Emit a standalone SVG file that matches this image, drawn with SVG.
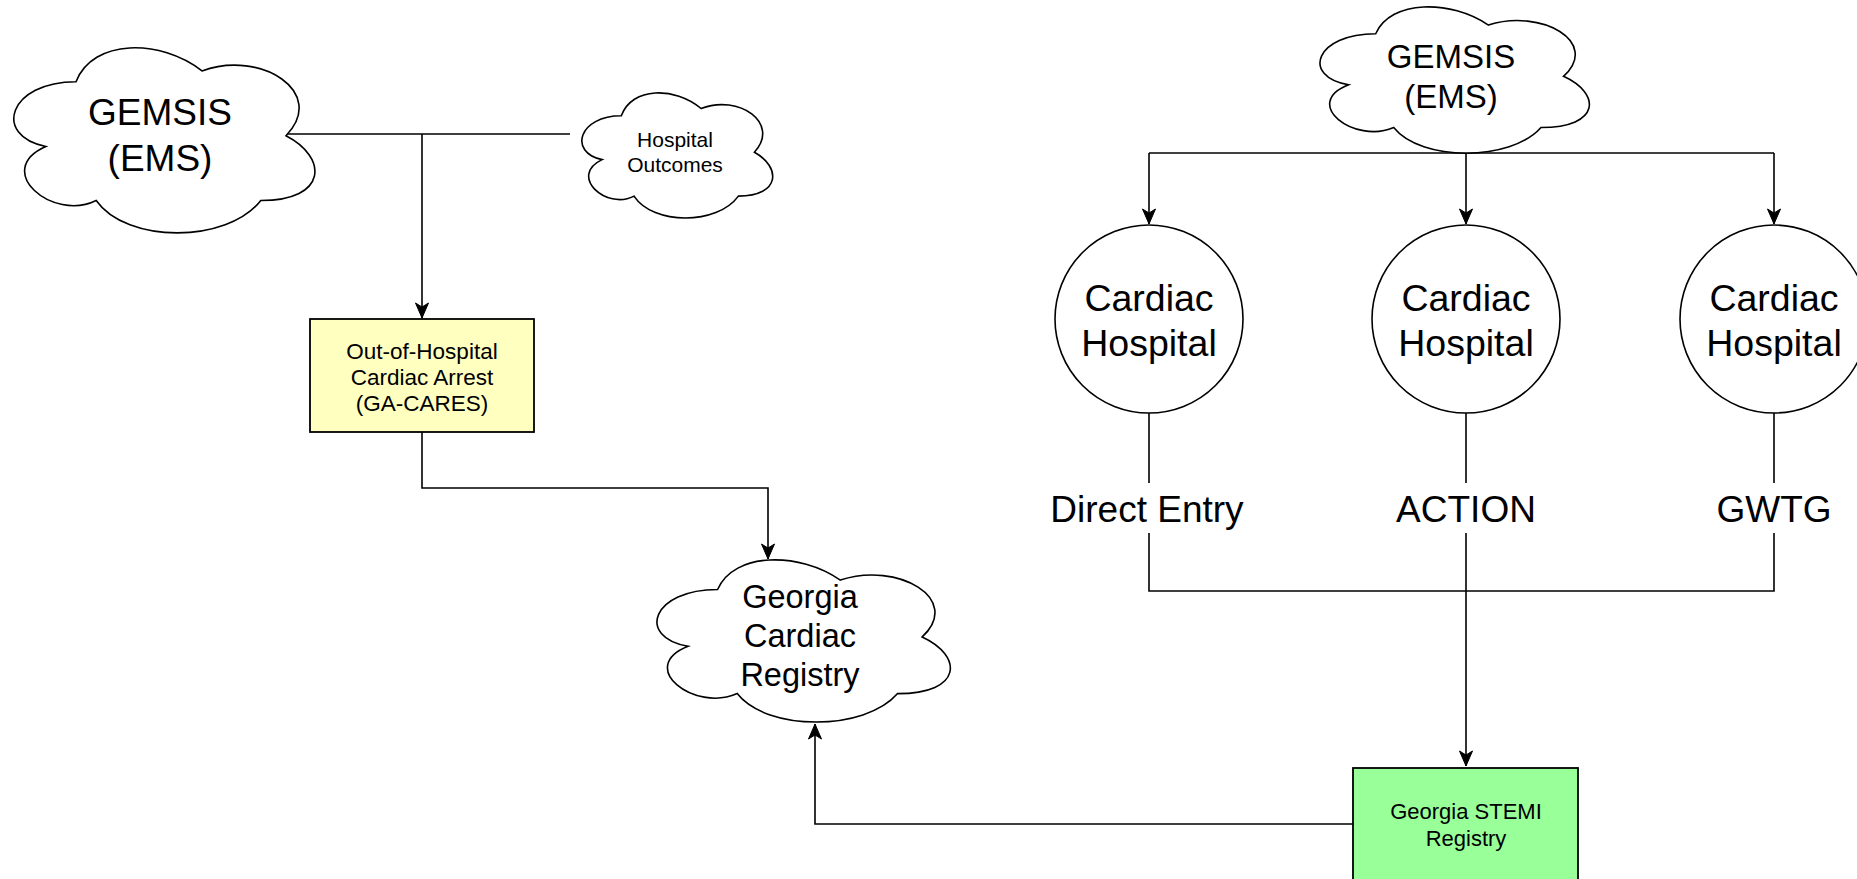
<svg xmlns="http://www.w3.org/2000/svg" width="1857" height="879" viewBox="0 0 1857 879">
<style>
  .ln{fill:none;stroke:#000;stroke-width:1.6}
  .shape{fill:#fff;stroke:#000;stroke-width:1.6}
  text{font-family:"Liberation Sans",Arial,sans-serif;text-anchor:middle;fill:#000}
</style>
<defs>
  <marker id="arr" markerUnits="userSpaceOnUse" viewBox="-16 -8 17 16" refX="0" refY="0" markerWidth="17" markerHeight="16" orient="auto">
    <path d="M0,0 L-15,-6.5 L-11,0 L-15,6.5 Z" fill="#000" stroke="#000" stroke-width="1"/>
  </marker>
</defs>
<rect width="1857" height="879" fill="#fff"/>

<g id="connectors">
  <path class="ln" d="M286,134 L570,134"/>
  <path class="ln" d="M422,134 L422,318" marker-end="url(#arr)"/>
  <path class="ln" d="M422,432 L422,488 L768,488 L768,559" marker-end="url(#arr)"/>
  <path class="ln" d="M1353,824 L815,824 L815,724" marker-end="url(#arr)"/>
  <path class="ln" d="M1149,153 L1774,153"/>
  <path class="ln" d="M1149,153 L1149,224" marker-end="url(#arr)"/>
  <path class="ln" d="M1466,153 L1466,224" marker-end="url(#arr)"/>
  <path class="ln" d="M1774,153 L1774,224" marker-end="url(#arr)"/>
  <path class="ln" d="M1149,413 L1149,483 M1149,533 L1149,591 L1774,591 L1774,533 M1774,483 L1774,413"/>
  <path class="ln" d="M1466,413 L1466,483 M1466,533 L1466,766" marker-end="url(#arr)"/>
  <text x="1147" y="522" font-size="37">Direct Entry</text>
  <text x="1466" y="522" font-size="37">ACTION</text>
  <text x="1774" y="522" font-size="37">GWTG</text>
</g>

<g id="gemsis-left">
  <path class="shape" d="M76,81.7 C8.8,81.7 -8,135.7 45.8,146.5 C-8,170.3 52.5,222.1 96.2,200.5 C126.4,243.7 227.2,243.7 260.8,200.5 C328,200.5 328,157.3 286,135.7 C328,92.5 260.8,49.3 202,70.9 C160,38.5 92.8,38.5 76,81.7 Z"/>
  <text x="160" y="125" font-size="37">GEMSIS</text>
  <text x="160" y="171" font-size="37">(EMS)</text>
</g>

<g id="hospital-outcomes">
  <path class="shape" d="M621.3,115.8 C578.7,115.8 568,152.3 602.1,159.6 C568,175.7 606.3,210.7 634,196.1 C653.2,225.3 717.1,225.3 738.4,196.1 C781,196.1 781,166.9 754.4,152.3 C781,123.1 738.4,93.9 701.1,108.5 C674.5,86.6 631.9,86.6 621.3,115.8 Z"/>
  <text x="675" y="147" font-size="21">Hospital</text>
  <text x="675" y="172" font-size="21">Outcomes</text>
</g>

<g id="ga-cares">
  <rect x="310" y="319" width="224" height="113" fill="#ffffc0" stroke="#000" stroke-width="1.8"/>
  <text x="422" y="359" font-size="22.5">Out-of-Hospital</text>
  <text x="422" y="385" font-size="22.5">Cardiac Arrest</text>
  <text x="422" y="411" font-size="22.5">(GA-CARES)</text>
</g>

<g id="georgia-cardiac-registry">
  <path class="shape" d="M717.6,589.5 C652.1,589.5 635.7,636.9 688.1,646.3 C635.7,667.1 694.6,712.6 737.2,693.6 C766.7,731.5 864.9,731.5 897.6,693.6 C963.1,693.6 963.1,655.8 922.2,636.9 C963.1,599 897.6,561.1 840.3,580.1 C799.4,551.7 733.9,551.7 717.6,589.5 Z"/>
  <text x="800" y="608" font-size="32.5">Georgia</text>
  <text x="800" y="647" font-size="32.5">Cardiac</text>
  <text x="800" y="686" font-size="32.5">Registry</text>
</g>

<g id="gemsis-right">
  <path class="shape" d="M1375.7,33.7 C1315.5,33.7 1300.5,76.3 1348.6,84.8 C1300.5,103.6 1354.6,144.5 1393.7,127.5 C1420.7,161.6 1510.9,161.6 1541,127.5 C1601.1,127.5 1601.1,93.4 1563.5,76.3 C1601.1,42.2 1541,8.1 1488.4,25.1 C1450.8,-0.5 1390.7,-0.5 1375.7,33.7 Z"/>
  <text x="1451" y="68" font-size="33">GEMSIS</text>
  <text x="1451" y="108" font-size="33">(EMS)</text>
</g>

<g id="hospital-1">
  <circle class="shape" cx="1149" cy="319" r="94"/>
  <text x="1149" y="311" font-size="37.5">Cardiac</text>
  <text x="1149" y="356" font-size="37.5">Hospital</text>
</g>
<g id="hospital-2">
  <circle class="shape" cx="1466" cy="319" r="94"/>
  <text x="1466" y="311" font-size="37.5">Cardiac</text>
  <text x="1466" y="356" font-size="37.5">Hospital</text>
</g>
<g id="hospital-3">
  <circle class="shape" cx="1774" cy="319" r="94"/>
  <text x="1774" y="311" font-size="37.5">Cardiac</text>
  <text x="1774" y="356" font-size="37.5">Hospital</text>
</g>

<g id="stemi-registry">
  <rect x="1353" y="768" width="225" height="114" fill="#99ff99" stroke="#000" stroke-width="1.8"/>
  <text x="1466" y="819" font-size="22">Georgia STEMI</text>
  <text x="1466" y="846" font-size="22">Registry</text>
</g>
</svg>
